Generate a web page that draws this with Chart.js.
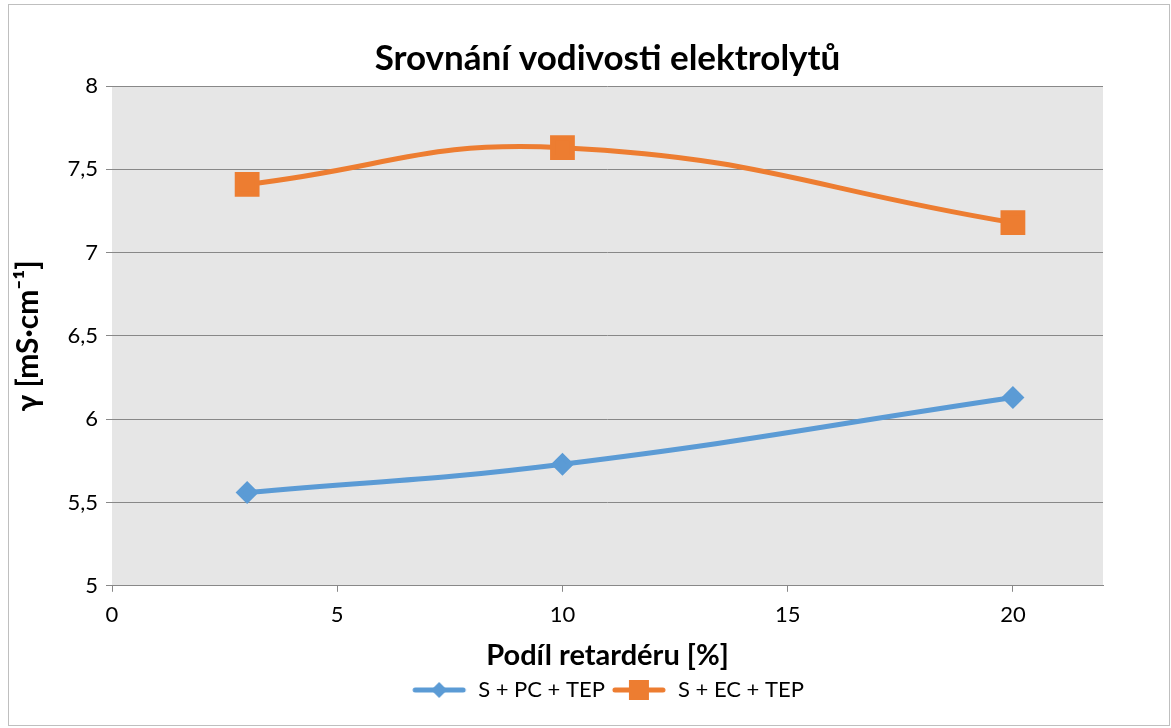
<!DOCTYPE html>
<html lang="cs">
<head>
  <meta charset="UTF-8">
  <title>Srovnání vodivosti elektrolytů</title>
  <script src="https://cdn.jsdelivr.net/npm/chart.js"></script>
  <style>
    html, body { margin: 0; padding: 0; background: #fff; }
    .wrap { position: relative; width: 1171px; height: 728px; }
    .frame { position: absolute; left: 8px; top: 4px; width: 1162px; height: 722px; border: 1px solid #bfbfbf; box-sizing: border-box; pointer-events: none; }
  </style>
</head>
<body>
  <div class="wrap">
    <canvas id="chart" width="1171" height="728"></canvas>
    <div class="frame"></div>
  </div>

  <script>
    // values
    const retarder = [3, 10, 20];
    const pcValues = [5.56, 5.73, 6.13];
    const ecValues = [7.41, 7.63, 7.18];
    const seriesNames = ['S + PC + TEP', 'S + EC + TEP'];
    const xTicks = [0, 5, 10, 15, 20];
    const yTicks = [5, 5.5, 6, 6.5, 7, 7.5, 8];

    const FONT = "Lato, 'Open Sans', 'Liberation Sans', sans-serif";
    const BLUE = '#5b9bd5';
    const ORANGE = '#ed7d31';

    // legend icon: line with the marker in the middle (Excel style)
    function legendIcon(color, shape) {
      const c = document.createElement('canvas');
      c.width = 56; c.height = 20;
      const g = c.getContext('2d');
      g.strokeStyle = color;
      g.lineWidth = 5;
      g.lineCap = 'round';
      g.beginPath(); g.moveTo(4, 10); g.lineTo(52, 10); g.stroke();
      g.fillStyle = color;
      if (shape === 'diamond') {
        g.beginPath(); g.moveTo(28, 2); g.lineTo(36, 10); g.lineTo(28, 18); g.lineTo(20, 10); g.closePath(); g.fill();
      } else {
        g.fillRect(18, 0, 20, 20);
      }
      return c;
    }
    const icons = [legendIcon(BLUE, 'diamond'), legendIcon(ORANGE, 'square')];

    const plotBg = {
      id: 'plotBg',
      beforeDraw(chart) {
        const a = chart.chartArea, ctx = chart.ctx;
        ctx.save();
        ctx.fillStyle = '#e6e6e6';
        ctx.fillRect(a.left, a.top, a.right - a.left, a.bottom - a.top);
        ctx.restore();
      }
    };

    new Chart(document.getElementById('chart'), {
      type: 'scatter',
      data: {
        datasets: [
          {
            label: seriesNames[0],
            data: retarder.map((x, i) => ({ x: x, y: pcValues[i] })),
            showLine: true,
            borderColor: BLUE,
            backgroundColor: BLUE,
            borderWidth: 5,
            pointStyle: 'rectRot',
            pointRadius: 8,
            pointHoverRadius: 8,
            tension: 0.45
          },
          {
            label: seriesNames[1],
            data: retarder.map((x, i) => ({ x: x, y: ecValues[i] })),
            showLine: true,
            borderColor: ORANGE,
            backgroundColor: ORANGE,
            borderWidth: 5,
            pointStyle: 'rect',
            pointRadius: 14,
            pointHoverRadius: 14,
            tension: 0.45
          }
        ]
      },
      options: {
        responsive: false,
        animation: false,
        layout: { padding: { left: 10, right: 68, top: 34, bottom: 17 } },
        plugins: {
          title: {
            display: true,
            fullSize: false,
            text: 'Srovnání vodivosti elektrolytů',
            color: '#000',
            font: { family: FONT, size: 35, weight: 'bold' },
            padding: { top: 4, bottom: 6 }
          },
          legend: {
            position: 'bottom',
            fullSize: false,
            labels: {
              color: '#000',
              font: { family: FONT, size: 22 },
              usePointStyle: true,
              pointStyleWidth: 56,
              padding: 6,
              generateLabels(chart) {
                const items = Chart.defaults.plugins.legend.labels.generateLabels(chart);
                items.forEach((it, i) => { it.pointStyle = icons[i]; });
                return items;
              }
            }
          },
          tooltip: { enabled: false }
        },
        scales: {
          x: {
            type: 'linear',
            min: 0,
            max: 22,
            afterBuildTicks(scale) { scale.ticks = xTicks.map(v => ({ value: v })); },
            grid: { display: true, drawOnChartArea: false, color: '#888', tickLength: 6 },
            border: { color: '#888', width: 1 },
            ticks: { color: '#000', font: { family: FONT, size: 22 }, padding: 10 },
            title: {
              display: true,
              text: 'Podíl retardéru [%]',
              color: '#000',
              font: { family: FONT, size: 29, weight: 'bold' },
              padding: { top: 0, bottom: 0 }
            }
          },
          y: {
            min: 5,
            max: 8,
            afterBuildTicks(scale) { scale.ticks = yTicks.map(v => ({ value: v })); },
            afterFit(scale) { scale.width = 102; },
            grid: { color: '#888', lineWidth: 1, tickLength: 6 },
            border: { display: false },
            ticks: {
              color: '#000',
              font: { family: FONT, size: 22 },
              padding: 8,
              callback: v => String(v).replace('.', ',')
            },
            title: {
              display: true,
              text: 'γ [mS·cm⁻¹]',
              color: '#000',
              font: { family: FONT, size: 30, weight: 'bold' },
              padding: { top: 0, bottom: 2 }
            }
          }
        }
      },
      plugins: [plotBg]
    });
  </script>
</body>
</html>
